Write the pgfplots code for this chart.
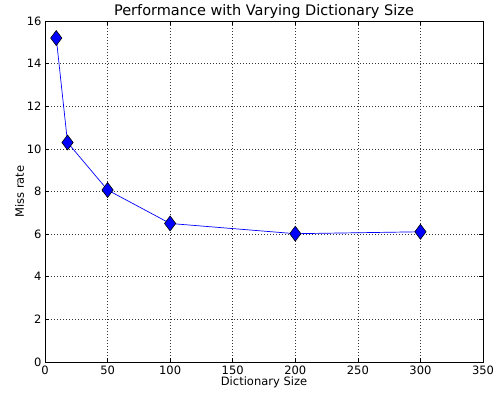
\documentclass[border=0pt]{standalone}
\usepackage{fontspec}
\setmainfont{DejaVu Sans}
\usepackage{pgfplots}
\pgfplotsset{compat=1.18}
\begin{document}
\begin{tikzpicture}
\begin{axis}[
  scale only axis,
  width=438bp, height=341bp,
  xmin=0, xmax=350, ymin=0, ymax=16,
  xtick={0,50,...,350}, ytick={0,2,...,16},
  tick align=inside,
  major tick length=4bp,
  xtick pos=both, ytick pos=both,
  grid=major,
  grid style={black!80, dash pattern=on 1bp off 2bp, line width=0.6pt},
  axis line style={black, line width=0.8pt},
  tick style={black, line width=0.6pt},
  /pgf/number format/assume math mode=true,
  ticklabel style={font=\fontsize{11.5bp}{13bp}\selectfont},
  label style={font=\fontsize{11.5bp}{13bp}\selectfont},
  title style={font=\fontsize{14.5bp}{16bp}\selectfont, yshift=-7bp},
  title={Performance with Varying Dictionary Size},
  xlabel={Dictionary Size},
  ylabel={Miss rate},
  xlabel style={yshift=4bp},
  ylabel style={yshift=-4bp},
  clip=false,
]
\addplot[blue, line width=0.7pt, mark=diamond*, mark size=7.5bp,
  mark options={fill=blue, draw=black, line width=0.6pt}]
  coordinates {(9,15.2) (18,10.3) (50,8.07) (100,6.5) (200,6.02) (300,6.11)};
\end{axis}
\path[use as bounding box] ([xshift=-45bp,yshift=-31bp]current axis.south west) rectangle ([xshift=15bp,yshift=21bp]current axis.north east);
\end{tikzpicture}
\end{document}
